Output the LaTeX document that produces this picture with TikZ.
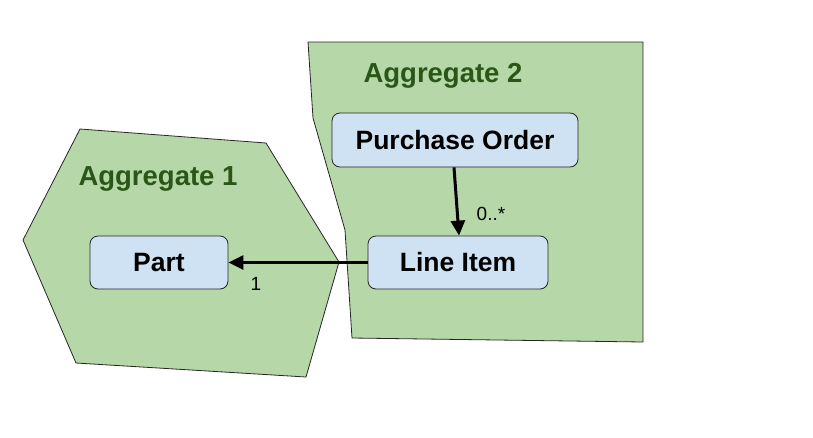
\documentclass[tikz,border=0pt]{standalone}
\usepackage{fontspec}
\setmainfont{Liberation Sans}
\usetikzlibrary{arrows.meta}
\definecolor{aggfill}{HTML}{B6D7A8}
\definecolor{aggtext}{HTML}{2A5718}
\definecolor{boxfill}{HTML}{CFE2F3}
\tikzset{
  agg/.style={fill=aggfill, draw=black!85, line width=0.8pt, line join=miter},
  aggtitle/.style={text=aggtext, font=\fontsize{27.5}{32}\selectfont\bfseries, inner sep=0pt},
  entity/.style={draw=black!85, fill=boxfill, rounded corners=8pt, line width=0.8pt, inner sep=0pt,
    font=\fontsize{26.5}{31}\selectfont\bfseries},
  rel/.style={line width=3pt, -{Triangle[length=15pt,width=14pt]}},
  mult/.style={font=\fontsize{19}{22}\selectfont, inner sep=0pt}
}
\begin{document}
\begin{tikzpicture}[x=1pt,y=-1pt]
\useasboundingbox (0,0) rectangle (813,437);
% Aggregate 1 hexagon
\draw[agg] (80,129) -- (266,143) -- (339,262) -- (306,377) -- (76,363) -- (23,240) -- cycle;
% Aggregate 2 polygon
\draw[agg] (308,42) -- (643,42) -- (643,342) -- (352,338) -- (345,230) -- (313,118) -- cycle;
\node[aggtitle] (t1) at (158,179) {Aggregate 1};
\node[aggtitle] (t2) at (443,76) {Aggregate 2};
\node[entity, minimum width=138pt, minimum height=53pt] (part) at (159,262.5) {Part};
\node[entity, minimum width=246pt, minimum height=54pt] (po) at (455,140) {Purchase Order};
\node[entity, minimum width=180pt, minimum height=53pt] (li) at (458,262.5) {Line Item};
\draw[rel] ([xshift=-1pt]po.south) -- ([xshift=1pt]li.north);
\draw[rel] (li.west) -- (part.east);
\node[mult] (m1) at (491,214) {0..*};
\node[mult] (m2) at (256,284) {1};
\end{tikzpicture}
\end{document}
